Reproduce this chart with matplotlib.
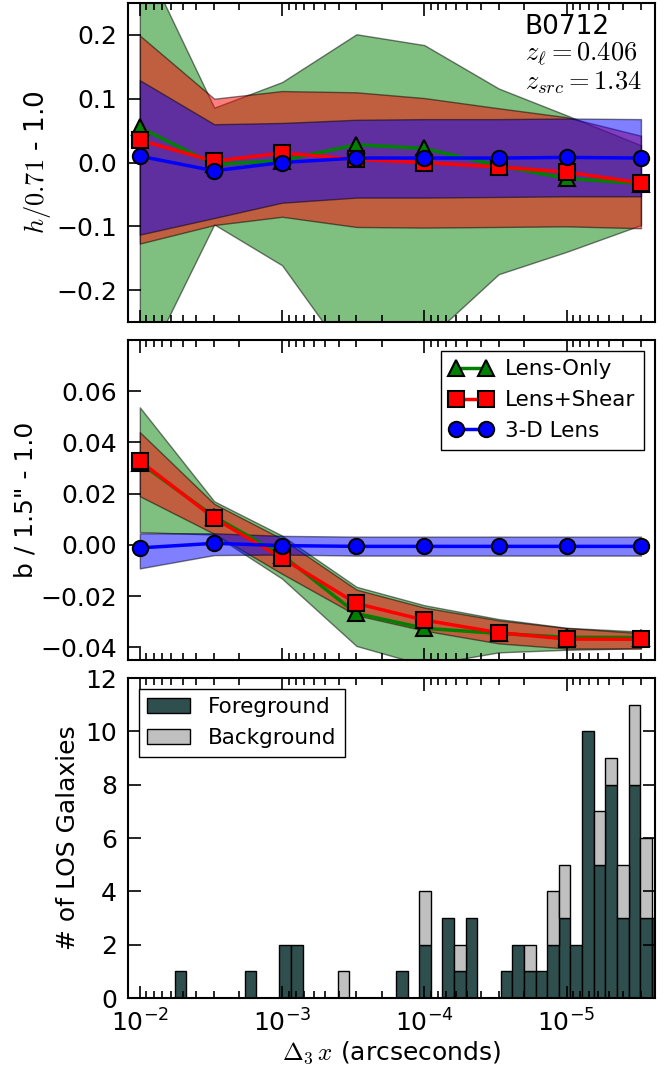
import numpy as np
import matplotlib
matplotlib.use("Agg")
import matplotlib.pyplot as plt
from matplotlib.patches import Rectangle

plt.rcParams['font.family'] = ['DejaVu Sans']
plt.rcParams['mathtext.fontset'] = 'cm'
plt.rcParams['axes.linewidth'] = 1.5

# offsets used for the three models
dx = [1e-2, 3e-3, 1e-3, 3e-4, 1e-4, 3e-5, 1e-5, 3e-6]

# h/0.71 - 1 (median and band)
h_lens = [0.055, -0.003, 0.003, 0.028, 0.022, -0.005, -0.025, -0.033]
h_lens_lo = [-0.334, -0.097, -0.161, -0.323, -0.282, -0.175, -0.140, -0.098]
h_lens_hi = [0.330, 0.086, 0.126, 0.201, 0.184, 0.116, 0.074, 0.027]
h_shear = [0.035, 0.002, 0.015, 0.005, 0.000, -0.007, -0.015, -0.032]
h_shear_lo = [-0.127, -0.098, -0.085, -0.101, -0.102, -0.101, -0.100, -0.103]
h_shear_hi = [0.199, 0.100, 0.112, 0.110, 0.101, 0.085, 0.071, 0.042]
h_3d = [0.010, -0.013, 0.000, 0.007, 0.007, 0.007, 0.008, 0.007]
h_3d_lo = [-0.113, -0.087, -0.063, -0.055, -0.055, -0.054, -0.053, -0.053]
h_3d_hi = [0.129, 0.060, 0.062, 0.067, 0.068, 0.068, 0.069, 0.068]

# b / 1.5" - 1
b_lens = [0.032, 0.011, -0.004, -0.0268, -0.0326, -0.0346, -0.0361, -0.0362]
b_lens_lo = [0.005, 0.004, -0.0132, -0.0395, -0.047, -0.042, -0.041, -0.0404]
b_lens_hi = [0.0537, 0.017, 0.0036, -0.0164, -0.0236, -0.029, -0.0324, -0.0339]
b_shear = [0.0328, 0.0104, -0.0052, -0.0229, -0.0294, -0.0343, -0.0368, -0.0369]
b_shear_lo = [0.019, 0.0043, -0.0113, -0.0275, -0.0335, -0.0385, -0.0405, -0.0405]
b_shear_hi = [0.044, 0.016, 0.0023, -0.0175, -0.0245, -0.0295, -0.0325, -0.0345]
b_3d = [-0.0012, 0.0006, -0.0003, -0.0006, -0.0006, -0.0006, -0.0006, -0.0006]
b_3d_lo = [-0.0092, -0.004, -0.0038, -0.0042, -0.0042, -0.0042, -0.0042, -0.0042]
b_3d_hi = [0.0045, 0.0045, 0.0035, 0.0032, 0.0032, 0.0032, 0.0032, 0.0032]

# LOS galaxy counts per log bin (bin 0 starts at 1e-2)
fg_counts = [0, 0, 0, 1, 0, 0, 0, 0, 0, 1,
             0, 0, 2, 2, 0, 0, 0, 0, 0, 0,
             0, 0, 1, 0, 2, 0, 3, 1, 3, 0,
             0, 1, 2, 1, 1, 2, 3, 2, 10, 5,
             8, 3, 8, 3, 3]
bg_counts = [0, 0, 0, 0, 0, 0, 0, 0, 0, 0,
             0, 0, 0, 0, 0, 0, 0, 1, 0, 0,
             0, 0, 0, 0, 2, 0, 0, 1, 0, 0,
             0, 0, 0, 1, 0, 2, 2, 0, 0, 2,
             1, 2, 3, 3, 0]
edges = 10 ** (-2 - np.arange(len(fg_counts) + 1) * 3.6 / 44)

xlim = (0.0121, 2.39e-6)

fig = plt.figure(figsize=(6.67, 10.72), dpi=100)
ax1 = fig.add_axes([0.192, 0.6996, 0.790, 0.2976])
ax2 = fig.add_axes([0.192, 0.3843, 0.790, 0.2985])
ax3 = fig.add_axes([0.192, 0.0690, 0.790, 0.2985])

for ax in (ax1, ax2, ax3):
    ax.set_xscale('log')
    ax.set_xlim(*xlim)
    ax.tick_params(which='both', direction='in', top=True, right=(ax is ax3),
                   labelsize=18, width=1.2)
    ax.tick_params(which='major', length=9, pad=8)
    ax.tick_params(which='minor', length=5)
ax1.tick_params(labelbottom=False)
ax2.tick_params(labelbottom=False)


def draw_models(ax, series):
    for (mid, lo, hi, col, mk, lab) in series:
        ax.fill_between(dx, lo, hi, facecolor=col, edgecolor='k', alpha=0.5, linewidth=1)
    for (mid, lo, hi, col, mk, lab) in series:
        ax.plot(dx, mid, color=col, marker=mk, ms=11, mec='k', mew=1.5, lw=2.5, label=lab)


draw_models(ax1, [(h_lens, h_lens_lo, h_lens_hi, 'g', '^', 'Lens-Only'),
                  (h_shear, h_shear_lo, h_shear_hi, 'r', 's', 'Lens+Shear'),
                  (h_3d, h_3d_lo, h_3d_hi, 'b', 'o', '3-D Lens')])
ax1.set_ylim(-0.25, 0.25)
ax1.set_yticks([-0.2, -0.1, 0.0, 0.1, 0.2])
ax1.set_ylabel('$h/0.71$ - 1.0', fontsize=19, labelpad=2)
ax1.text(0.753, 0.965, 'B0712\n' + r'$z_\ell=0.406$' + '\n' + r'$z_{src}=1.34$',
         transform=ax1.transAxes, fontsize=19, va='top', ha='left', linespacing=1.05)

draw_models(ax2, [(b_lens, b_lens_lo, b_lens_hi, 'g', '^', 'Lens-Only'),
                  (b_shear, b_shear_lo, b_shear_hi, 'r', 's', 'Lens+Shear'),
                  (b_3d, b_3d_lo, b_3d_hi, 'b', 'o', '3-D Lens')])
ax2.set_ylim(-0.045, 0.08)
ax2.set_yticks([-0.04, -0.02, 0.0, 0.02, 0.04, 0.06])
ax2.set_ylabel('b / 1.5" - 1.0', fontsize=18, labelpad=2)
leg = ax2.legend(loc='upper right', numpoints=2, fontsize=15.5, handlelength=2.0,
                 handletextpad=0.6, fancybox=False, edgecolor='k', framealpha=1,
                 borderaxespad=0.5)
leg.get_frame().set_linewidth(1)

# stacked histogram: foreground below, background on top
fg = np.array(fg_counts)
bg = np.array(bg_counts)
left = edges[:-1]
width = np.diff(edges)
m = fg > 0
ax3.bar(left[m], fg[m], width=width[m], align='edge', color='darkslategray',
        edgecolor='k', linewidth=1)
m = bg > 0
ax3.bar(left[m], bg[m], width=width[m], bottom=fg[m], align='edge', color='silver',
        edgecolor='k', linewidth=1)
ax3.set_ylim(0, 12)
ax3.set_yticks(range(0, 13, 2))
ax3.set_ylabel('# of LOS Galaxies', fontsize=18, labelpad=4)
ax3.set_xlabel(r'$\Delta_3\,x$ (arcseconds)', fontsize=18, labelpad=2)
handles = [Rectangle((0, 0), 1, 1, facecolor='darkslategray', edgecolor='k'),
           Rectangle((0, 0), 1, 1, facecolor='silver', edgecolor='k')]
leg = ax3.legend(handles, ['Foreground', 'Background'], loc='upper left', fontsize=15.5,
                 fancybox=False, edgecolor='k', framealpha=1, borderaxespad=0.5)
leg.get_frame().set_linewidth(1)

fig.savefig('out.png', dpi=100)
